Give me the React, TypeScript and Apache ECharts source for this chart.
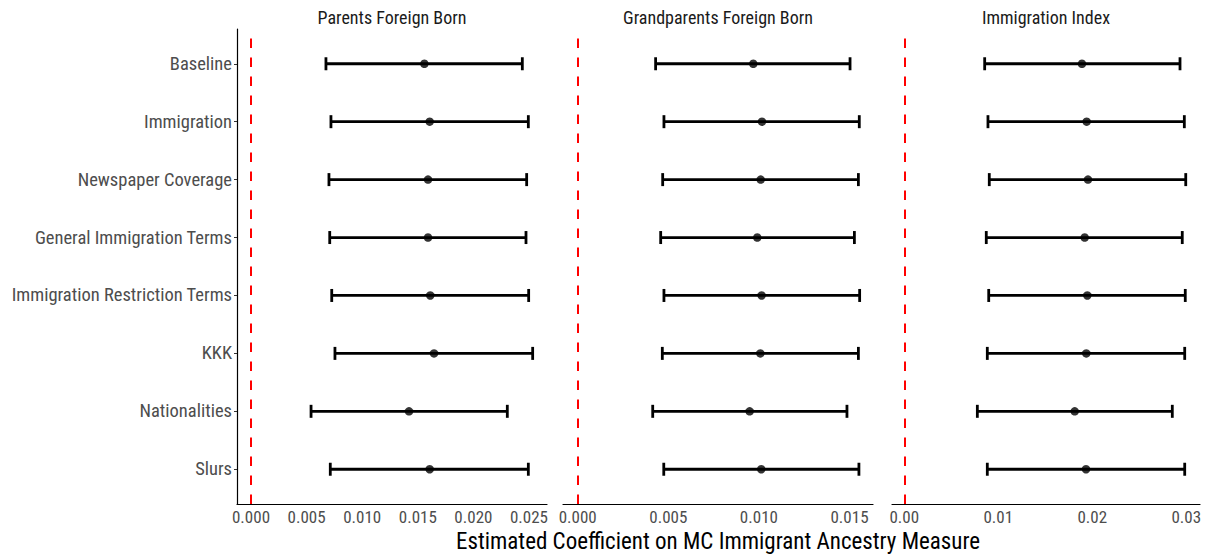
import React, { useEffect, useRef } from "react";
import * as echarts from "echarts";

const categories = [
  "Baseline",
  "Immigration",
  "Newspaper Coverage",
  "General Immigration Terms",
  "Immigration Restriction Terms",
  "KKK",
  "Nationalities",
  "Slurs",
];

const panelTitles = ["Parents Foreign Born", "Grandparents Foreign Born", "Immigration Index"];

// Panel 1: Parents Foreign Born
const p1Mean = [0.01559, 0.01607, 0.01592, 0.01592, 0.01612, 0.01646, 0.01421, 0.01607];
const p1Lo = [0.00674, 0.00719, 0.00701, 0.00708, 0.00726, 0.00755, 0.0054, 0.00713];
const p1Hi = [0.0244, 0.02494, 0.02479, 0.02473, 0.02497, 0.02533, 0.02305, 0.02494];

// Panel 2: Grandparents Foreign Born
const p2Mean = [0.00969, 0.01017, 0.0101, 0.00991, 0.01015, 0.01008, 0.00949, 0.01013];
const p2Lo = [0.0043, 0.00476, 0.00469, 0.00458, 0.00476, 0.00467, 0.00414, 0.00475];
const p2Hi = [0.01503, 0.01554, 0.01549, 0.01527, 0.01556, 0.01549, 0.01486, 0.01552];

// Panel 3: Immigration Index
const p3Mean = [0.0189, 0.0194, 0.01954, 0.01919, 0.01947, 0.01936, 0.01813, 0.01933];
const p3Lo = [0.00855, 0.0089, 0.00904, 0.00872, 0.00898, 0.00883, 0.00777, 0.00883];
const p3Hi = [0.02933, 0.02979, 0.02994, 0.02957, 0.02989, 0.02983, 0.02851, 0.02983];

const p1Ticks = [0, 0.005, 0.01, 0.015, 0.02, 0.025];
const p2Ticks = [0, 0.005, 0.01, 0.015];
const p3Ticks = [0, 0.01, 0.02, 0.03];

const xAxisTitle = "Estimated Coefficient on MC Immigrant Ancestry Measure";

const FONT = "'Roboto Condensed', 'Liberation Sans Narrow', Roboto, sans-serif";

export default function App() {
  const ref = useRef<HTMLDivElement>(null);

  useEffect(() => {
    if (!ref.current) return;
    const chart = echarts.init(ref.current, undefined, { renderer: "svg" });

    const panels = [
      { mean: p1Mean, lo: p1Lo, hi: p1Hi, ticks: p1Ticks, dec: 3, min: -0.001259, max: 0.026619, left: 237, width: 310 },
      { mean: p2Mean, lo: p2Lo, hi: p2Hi, ticks: p2Ticks, dec: 3, min: -0.000811, max: 0.016297, left: 563, width: 310 },
      { mean: p3Mean, lo: p3Lo, hi: p3Hi, ticks: p3Ticks, dec: 2, min: -0.001309, max: 0.031457, left: 892, width: 308 },
    ];
    const n = categories.length;
    const yPos = (i: number) => n - i;
    const yVals = categories.map((_, i) => yPos(i));

    const grids = panels.map((p) => ({
      left: p.left,
      top: 29,
      width: p.width,
      height: 475,
      containLabel: false,
      outerBoundsMode: "none",
    }));

    const xAxes = panels.map((p, k) => ({
      type: "value",
      gridIndex: k,
      min: p.min,
      max: p.max,
      splitLine: { show: false },
      axisTick: { show: false },
      axisLine: { show: true, onZero: false, lineStyle: { color: "#000", width: 1.2 } },
      axisLabel: {
        customValues: p.ticks,
        formatter: (v: number) => v.toFixed(p.dec),
        color: "#4d4d4d",
        fontSize: 17,
        fontFamily: FONT,
        margin: 4,
        showMinLabel: true,
        showMaxLabel: true,
      },
      name: k === 1 ? xAxisTitle : "",
      nameLocation: "middle",
      nameGap: 23,
      nameTextStyle: { color: "#000", fontSize: 23, fontFamily: FONT },
    }));

    const yAxes = panels.map((p, k) => ({
      type: "value",
      gridIndex: k,
      min: 0.4,
      max: 8.6,
      splitLine: { show: false },
      axisLine: { show: k === 0, onZero: false, lineStyle: { color: "#000", width: 1.2 } },
      axisTick: {
        show: k === 0,
        customValues: yVals,
        length: 3,
        lineStyle: { color: "#333" },
      },
      axisLabel: {
        show: k === 0,
        customValues: yVals,
        formatter: (v: number) => categories[n - Math.round(v)] ?? "",
        color: "#4d4d4d",
        fontSize: 18.5,
        fontFamily: FONT,
        margin: 5,
      },
    }));

    const series: any[] = [];
    panels.forEach((p, k) => {
      series.push({
        type: "custom",
        xAxisIndex: k,
        yAxisIndex: k,
        data: categories.map((_, i) => [p.lo[i], p.hi[i], yPos(i)]),
        encode: { x: [0, 1], y: 2 },
        renderItem: (params: any, api: any) => {
          const a = api.coord([api.value(0), api.value(2)]);
          const b = api.coord([api.value(1), api.value(2)]);
          const h = 6.5;
          const style = { stroke: "#000", lineWidth: 2.8 };
          return {
            type: "group",
            children: [
              { type: "line", shape: { x1: a[0], y1: a[1], x2: b[0], y2: b[1] }, style },
              { type: "line", shape: { x1: a[0], y1: a[1] - h, x2: a[0], y2: a[1] + h }, style },
              { type: "line", shape: { x1: b[0], y1: b[1] - h, x2: b[0], y2: b[1] + h }, style },
            ],
          };
        },
        z: 3,
        markLine: {
          silent: true,
          symbol: ["none", "none"],
          label: { show: false },
          lineStyle: { color: "#ff0000", type: [9.5, 9.5], width: 2 },
          data: [{ xAxis: 0 }],
        },
      });
      series.push({
        type: "scatter",
        xAxisIndex: k,
        yAxisIndex: k,
        data: categories.map((_, i) => [p.mean[i], yPos(i)]),
        symbol: "circle",
        symbolSize: 8.5,
        itemStyle: { color: "#000" },
        z: 4,
      });
    });

    const centers = panels.map((p) => p.left + p.width / 2);
    const graphic = panelTitles.map((t, k) => ({
      type: "text",
      x: centers[k],
      y: 17,
      style: {
        text: t,
        fill: "#1a1a1a",
        fontSize: 18,
        fontFamily: FONT,
        align: "center",
        verticalAlign: "middle",
        textAlign: "center",
        textVerticalAlign: "middle",
      },
    }));

    chart.setOption({
      animation: false,
      backgroundColor: "#fff",
      grid: grids,
      xAxis: xAxes,
      yAxis: yAxes,
      series,
      graphic,
    });

    return () => chart.dispose();
  }, []);

  return (
    <div
      ref={ref}
      style={{ position: "fixed", left: 0, top: 0, width: 1214, height: 556 }}
    />
  );
}
